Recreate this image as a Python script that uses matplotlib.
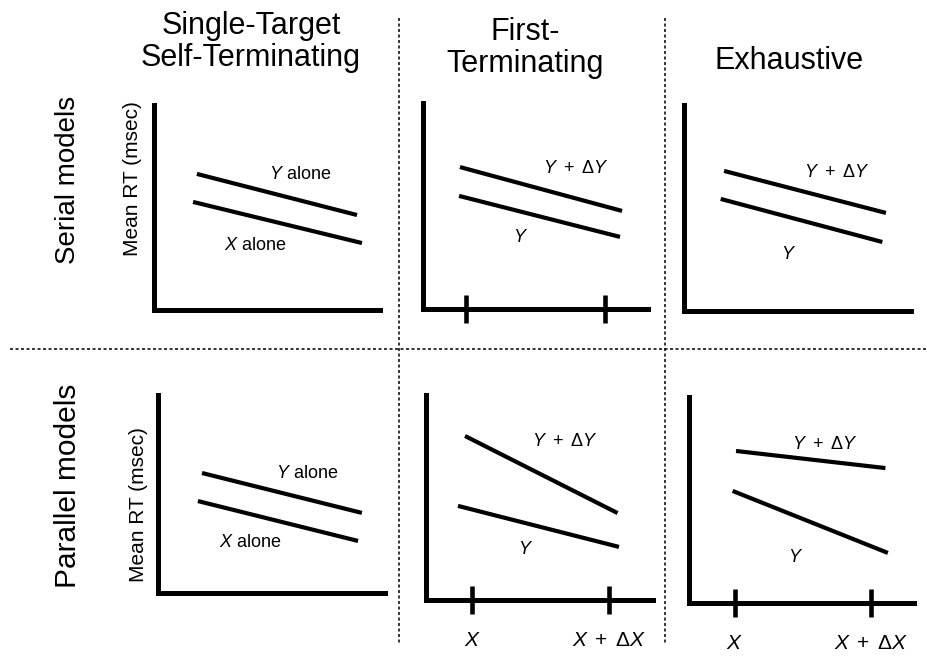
import matplotlib
matplotlib.use("Agg")
import matplotlib.pyplot as plt
from matplotlib.lines import Line2D

plt.rcParams['font.family'] = ['Liberation Sans', 'DejaVu Sans']
plt.rcParams['mathtext.fontset'] = 'custom'
plt.rcParams['mathtext.rm'] = 'Liberation Sans'
plt.rcParams['mathtext.it'] = 'Liberation Sans:italic'
plt.rcParams['mathtext.bf'] = 'Liberation Sans:bold'
plt.rcParams['mathtext.sf'] = 'Liberation Sans'

# ---------------------------------------------------------------------------
# Schematic mean-RT predictions (arbitrary units, 0-100 on both axes)
# ---------------------------------------------------------------------------
column_titles = ["Single-Target\nSelf-Terminating", "First-\nTerminating", "Exhaustive"]
row_titles = ["Serial models", "Parallel models"]
ylabel_text = "Mean RT (msec)"

# x tick positions: X and X + dX
tick_pos_top = [19.3, 81.0]
tick_pos_par_first = [20.3, 80.6]
tick_pos_par_exh = [20.3, 80.9]
tick_labels = [r"$X$", r"$X\;+\;\Delta X$"]

# Serial, single-target self-terminating
ser_ste_x_upper = [18.8, 89.8]
ser_ste_y_upper = [66.3, 46.2]
ser_ste_x_lower = [17.1, 92.0]
ser_ste_y_lower = [52.6, 32.5]

# Serial, first-terminating
ser_ft_x_upper = [16.6, 88.6]
ser_ft_y_upper = [68.9, 47.6]
ser_ft_x_lower = [16.2, 87.7]
ser_ft_y_lower = [54.9, 35.0]

# Serial, exhaustive
ser_ex_x_upper = [17.5, 89.1]
ser_ex_y_upper = [68.0, 47.6]
ser_ex_x_lower = [16.0, 87.5]
ser_ex_y_lower = [54.4, 33.5]

# Parallel, single-target self-terminating
par_ste_x_upper = [19.2, 89.8]
par_ste_y_upper = [60.5, 40.3]
par_ste_x_lower = [17.4, 88.1]
par_ste_y_lower = [46.3, 26.1]

# Parallel, first-terminating
par_ft_x_upper = [17.2, 84.4]
par_ft_y_upper = [80.0, 42.4]
par_ft_x_lower = [14.1, 85.0]
par_ft_y_lower = [45.9, 25.9]

# Parallel, exhaustive
par_ex_x_upper = [20.9, 87.3]
par_ex_y_upper = [73.8, 65.5]
par_ex_x_lower = [19.4, 88.4]
par_ex_y_lower = [54.4, 24.3]

lbl_alone_upper = r"$Y$ alone"
lbl_alone_lower = r"$X$ alone"
lbl_plus = r"$Y\ +\ \Delta Y$"
lbl_y = r"$Y$"

# ---------------------------------------------------------------------------
W, H = 928, 656
fig = plt.figure(figsize=(W / 100, H / 100), dpi=100)
fig.patch.set_facecolor("white")


def fx(x):
    return x / W


def fy(y):
    return 1 - y / H


panels = [
    # rect (left, top, right, bottom) in pixels, lines, label positions, ticks
    dict(rect=(154.5, 105, 380, 309.5),
         lines=[(ser_ste_x_upper, ser_ste_y_upper), (ser_ste_x_lower, ser_ste_y_lower)],
         labels=[(64.5, 65.8, lbl_alone_upper), (44.6, 31.1, lbl_alone_lower)],
         ticks=None, ticklabels=False, ylabel=(133, 179)),
    dict(rect=(422.6, 103, 647.7, 309),
         lines=[(ser_ft_x_upper, ser_ft_y_upper), (ser_ft_x_lower, ser_ft_y_lower)],
         labels=[(68.1, 68.4, lbl_plus), (43.7, 34.5, lbl_y)],
         ticks=tick_pos_top, ticklabels=False, ylabel=None),
    dict(rect=(684.5, 105, 910.6, 311),
         lines=[(ser_ex_x_upper, ser_ex_y_upper), (ser_ex_x_lower, ser_ex_y_lower)],
         labels=[(67.3, 67.0, lbl_plus), (46.0, 27.2, lbl_y)],
         ticks=None, ticklabels=False, ylabel=None),
    dict(rect=(158.5, 395, 385, 592.5),
         lines=[(par_ste_x_upper, par_ste_y_upper), (par_ste_x_lower, par_ste_y_lower)],
         labels=[(65.6, 60.5, lbl_alone_upper), (40.4, 25.1, lbl_alone_lower)],
         ticks=None, ticklabels=False, ylabel=(138, 505)),
    dict(rect=(426, 395, 653, 600),
         lines=[(par_ft_x_upper, par_ft_y_upper), (par_ft_x_lower, par_ft_y_lower)],
         labels=[(61.2, 77.1, lbl_plus), (43.9, 24.4, lbl_y)],
         ticks=tick_pos_par_first, ticklabels=True, ylabel=None),
    dict(rect=(689, 397, 914, 603),
         lines=[(par_ex_x_upper, par_ex_y_upper), (par_ex_x_lower, par_ex_y_lower)],
         labels=[(60.3, 76.7, lbl_plus), (47.3, 22.3, lbl_y)],
         ticks=tick_pos_par_exh, ticklabels=True, ylabel=None),
]

for p in panels:
    l, t, r, b = p["rect"]
    ax = fig.add_axes([fx(l), fy(b), fx(r) - fx(l), fy(t) - fy(b)])
    ax.set_xlim(0, 100)
    ax.set_ylim(0, 100)
    ax.patch.set_alpha(0)
    ax.spines["top"].set_visible(False)
    ax.spines["right"].set_visible(False)
    for s in ("left", "bottom"):
        ax.spines[s].set_linewidth(3.6)
        ax.spines[s].set_capstyle("projecting")
    ax.set_yticks([])
    if p["ticks"] is None:
        ax.set_xticks([])
    else:
        ax.set_xticks(p["ticks"])
        ax.set_xticklabels(tick_labels if p["ticklabels"] else ["", ""], fontsize=15)
        ax.tick_params(axis="x", direction="inout", length=20, width=3.3, pad=12)
    for xs, ys in p["lines"]:
        ax.plot(xs, ys, color="black", lw=3.0, solid_capstyle="butt", clip_on=False)
    for lx, ly, txt in p["labels"]:
        ax.text(lx, ly, txt, ha="center", va="center", fontsize=13)
    if p["ylabel"] is not None:
        yx, yy = p["ylabel"]
        fig.text(fx(yx), fy(yy), ylabel_text, rotation=90, ha="center", va="center",
                 fontsize=15)

# Column headings
fig.text(fx(251), fy(42), column_titles[0], ha="center", va="center", fontsize=22,
         linespacing=1.05)
fig.text(fx(525), fy(48), column_titles[1], ha="center", va="center", fontsize=22,
         linespacing=1.05)
fig.text(fx(789), fy(61), column_titles[2], ha="center", va="center", fontsize=22)

# Row headings
fig.text(fx(68), fy(180), row_titles[0], rotation=90, ha="center", va="center", fontsize=20)
fig.text(fx(68), fy(485.5), row_titles[1], rotation=90, ha="center", va="center",
         fontsize=21.5)

# Dotted separators
dot = dict(transform=fig.transFigure, color="black", lw=1.1, ls=(0, (2, 1.6)))
fig.add_artist(Line2D([fx(398.6), fx(398.6)], [fy(18), fy(643)], **dot))
fig.add_artist(Line2D([fx(665), fx(665)], [fy(18), fy(643)], **dot))
fig.add_artist(Line2D([fx(10), fx(928)], [fy(349), fy(349)], **dot))

fig.savefig("out.png", dpi=100, facecolor="white")
